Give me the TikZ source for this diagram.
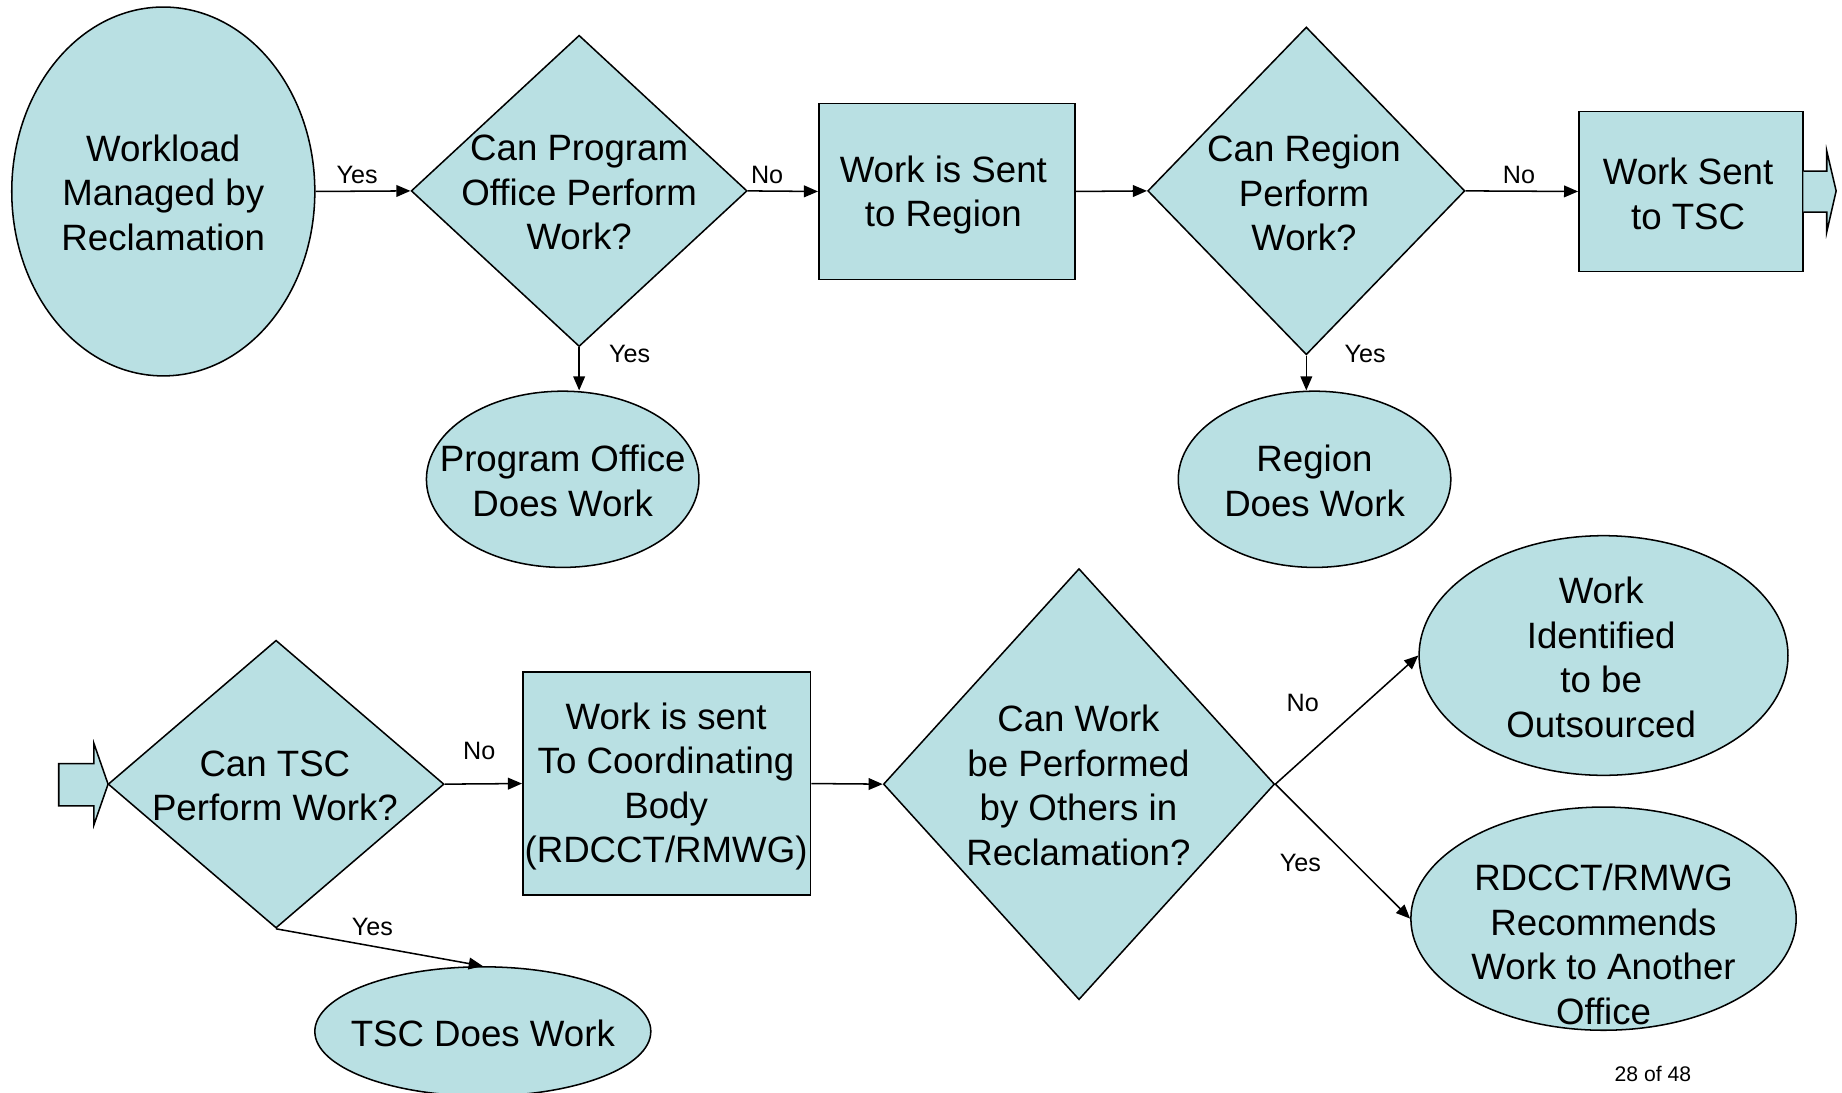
\documentclass[tikz,border=0pt]{standalone}
\usepackage{fontspec}
\setmainfont{Liberation Sans}
\usetikzlibrary{shapes.geometric,arrows.meta}
\definecolor{fillc}{RGB}{185,224,227}
\tikzset{
  every picture/.style={line width=0.65pt},
  shp/.style={draw=black,fill=fillc,inner sep=0pt,line width=0.65pt},
  ell/.style={shp,ellipse},
  dia/.style={shp,diamond},
  box/.style={shp,rectangle},
  txt/.style={align=center,font=\fontsize{15.6}{19}\selectfont,inner sep=0pt},
  lbl/.style={font=\fontsize{10.7}{12}\selectfont,inner sep=0pt},
  conn/.style={draw=black,-{Triangle[length=6pt,width=5pt]}}
}
\begin{document}
\begin{tikzpicture}[x=0.5pt,y=-0.5pt]
\useasboundingbox[fill=white] (0,0) rectangle (1568,930);
% top row shapes
\node[ell,minimum width=129pt,minimum height=157pt] (e1) at (139,163) {};
\node[dia,minimum width=143pt,minimum height=132.5pt] (d1) at (493,162.5) {};
\node[box,minimum width=109pt,minimum height=75pt] (r1) at (806,163) {};
\node[dia,minimum width=135pt,minimum height=139.5pt] (d2) at (1112,162.5) {};
\node[box,minimum width=95.5pt,minimum height=68pt] (r2) at (1439.5,163) {};
\node[ell,minimum width=116pt,minimum height=75pt] (e2) at (479,408) {};
\node[ell,minimum width=116pt,minimum height=75pt] (e3) at (1119,408) {};
% block arrow right
\filldraw[draw=black,fill=fillc] (1535,145.6) -- (1555,145.6) -- (1555,128.5) -- (1563,162.5) -- (1555,197.5) -- (1555,180.5) -- (1535,180.5);
% bottom row shapes
\filldraw[draw=black,fill=fillc] (80,650) -- (50,650) -- (50,686) -- (80,686) -- (80,702) -- (92,667.5) -- (80,633) -- cycle;
\node[dia,minimum width=143pt,minimum height=122.5pt] (d3) at (235,667.5) {};
\node[box,minimum width=122.5pt,minimum height=95pt] (r3) at (567.5,667) {};
\node[dia,minimum width=166.5pt,minimum height=183.5pt] (d4) at (918.5,667.5) {};
\node[ell,minimum width=157pt,minimum height=102pt] (e4) at (1365,558) {};
\node[ell,minimum width=164pt,minimum height=95pt] (e5) at (1365,782) {};
\node[ell,minimum width=143pt,minimum height=55pt] (e6) at (411,878) {};
% texts
\node[txt] (te1) at (139,164) {Workload\\Managed by\\Reclamation};
\node[txt] (td1) at (493,164) {Can Program\\Office Perform\\Work?};
\node[txt] (tr1) at (803,166) {Work is Sent\\to Region};
\node[txt] (td2) at (1110,164.5) {Can Region\\Perform\\Work?};
\node[txt] (tr2) at (1437,165) {Work Sent\\to TSC};
\node[txt] (te2) at (479,409.5) {Program Office\\Does Work};
\node[txt] (te3) at (1119,409.5) {Region\\Does Work};
\node[txt] (td3) at (234,669) {Can TSC\\Perform Work?};
\node[txt] (tr3) at (567,669.5) {Work is sent\\To Coordinating\\Body\\(RDCCT/RMWG)};
\node[txt] (td4) at (918,668.5) {Can Work\\be Performed\\by Others in\\Reclamation?};
\node[txt] (te4) at (1363,559.5) {Work\\Identified\\to be\\Outsourced};
\node[txt] (te5) at (1365,804) {RDCCT/RMWG\\Recommends\\Work to Another\\Office};
\node[txt] (te6) at (411,880) {TSC Does Work};
% connectors
\draw[conn] (e1.east) -- (d1.west);
\draw[conn] (d1.east) -- (r1.west);
\draw[conn] (r1.east) -- (d2.west);
\draw[conn] (d2.east) -- (r2.west);
\draw[conn] (d1.south) -- (d1.south |- e2.north);
\draw[conn] (d2.south) -- (d2.south |- e3.north);
\draw[conn] (d3.east) -- (r3.west);
\draw[conn] (r3.east) -- (d4.west);
\draw[conn] (d3.south) -- (e6.north);
\draw[conn] (d4.east) -- (e4.west);
\draw[conn] (d4.east) -- (e5.west);
% labels
\node[lbl] (l1) at (304,149) {Yes};
\node[lbl] (l2) at (653,149) {No};
\node[lbl] (l3) at (1293,149) {No};
\node[lbl] (l4) at (536,301) {Yes};
\node[lbl] (l5) at (1162,301) {Yes};
\node[lbl] (l6) at (408,639) {No};
\node[lbl] (l7) at (317,789) {Yes};
\node[lbl] (l8) at (1109,598) {No};
\node[lbl] (l9) at (1107,735) {Yes};
\node[font=\fontsize{9}{11}\selectfont,inner sep=0pt] (pg) at (1407,914) {28 of 48};
\end{tikzpicture}
\end{document}
